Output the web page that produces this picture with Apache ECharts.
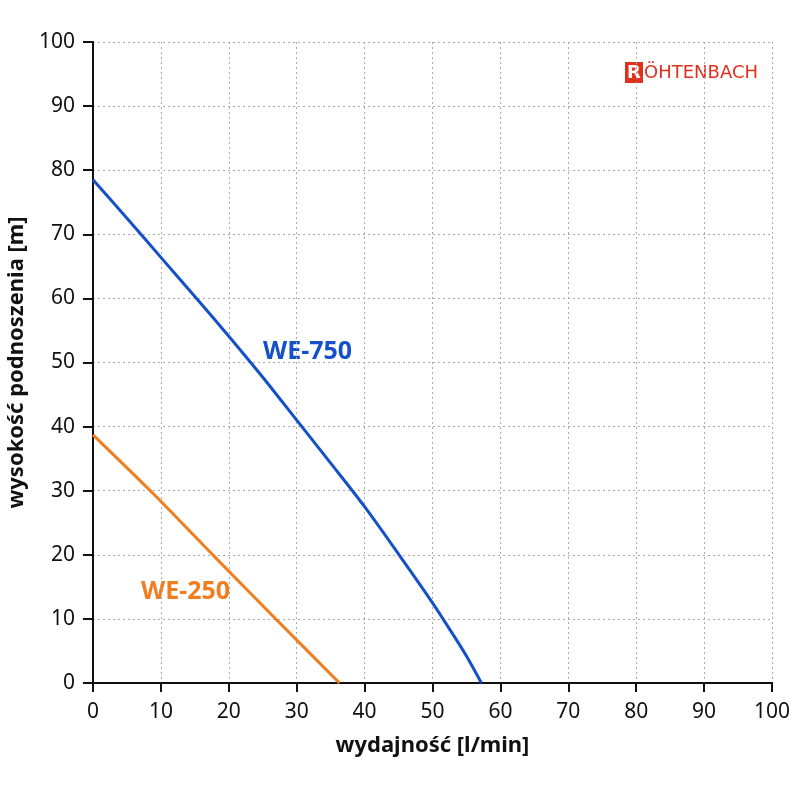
<!DOCTYPE html>
<html>
<head>
<meta charset="utf-8">
<script src="https://cdn.jsdelivr.net/npm/echarts@6/dist/echarts.min.js"></script>
<style>
  html, body { margin: 0; padding: 0; background: #fff; }
  #chart { width: 800px; height: 800px; }
</style>
</head>
<body>
<div id="chart"></div>
<script>
var axisTicks = [0, 10, 20, 30, 40, 50, 60, 70, 80, 90, 100];
var we750Flow = [0, 5, 10, 15, 20, 25, 30, 35, 40, 45, 50, 53, 55, 57.2];
var we750Head = [78.5, 72.5, 66.4, 60.3, 54.1, 47.7, 41.0, 34.3, 27.5, 20.1, 12.5, 7.6, 4.2, 0];
var we250Flow = [0, 9, 18, 27, 36.3];
var we250Head = [38.7, 29.4, 19.6, 9.9, 0];

function pairs(xs, ys) {
  return xs.map(function (x, i) { return [x, ys[i]]; });
}

var font = 'Noto Sans';
var mychart = echarts.init(document.getElementById('chart'));

var splitStyle = { show: true, lineStyle: { color: '#aaa', type: [2, 3], width: 1 } };
var frameLine = { show: true, lineStyle: { color: '#111', width: 2 } };

var option = {
  backgroundColor: '#ffffff',
  animation: false,
  grid: {
    left: 93, right: 28, top: 42, bottom: 117,
    containLabel: false,
    outerBoundsMode: 'none'
  },
  xAxis: [{
    type: 'value', min: 0, max: 100, interval: 10,
    name: 'wydajność [l/min]',
    nameLocation: 'middle', nameGap: 52,
    nameTextStyle: { fontFamily: font, fontSize: 22, fontWeight: 'bold', color: '#111' },
    axisLine: frameLine,
    axisTick: { show: true, length: 9, lineStyle: { color: '#111', width: 2 } },
    axisLabel: { fontFamily: font, fontSize: 21, color: '#111', margin: 19 },
    splitLine: splitStyle
  }, {
    type: 'value', position: 'top', min: 0, max: 100, interval: 10,
    axisLine: frameLine, axisTick: { show: false }, axisLabel: { show: false },
    splitLine: { show: false }
  }],
  yAxis: [{
    type: 'value', min: 0, max: 100, interval: 10,
    name: 'wysokość podnoszenia [m]',
    nameLocation: 'middle', nameGap: 51,
    nameTextStyle: { fontFamily: font, fontSize: 22, fontWeight: 'bold', color: '#111' },
    axisLine: frameLine,
    axisTick: { show: true, length: 10, lineStyle: { color: '#111', width: 2 } },
    axisLabel: { fontFamily: font, fontSize: 21, color: '#111', margin: 18 },
    splitLine: splitStyle
  }, {
    type: 'value', position: 'right', min: 0, max: 100, interval: 10,
    axisLine: frameLine, axisTick: { show: false }, axisLabel: { show: false },
    splitLine: { show: false }
  }],
  series: [{
    name: 'WE-750',
    type: 'line',
    smooth: 0.3,
    symbol: 'none',
    lineStyle: { color: '#1450c8', width: 3 },
    data: pairs(we750Flow, we750Head)
  }, {
    name: 'WE-250',
    type: 'line',
    smooth: 0.2,
    symbol: 'none',
    lineStyle: { color: '#f07d1e', width: 3 },
    data: pairs(we250Flow, we250Head)
  }],
  graphic: [{
    type: 'text', left: 263, top: 339,
    style: { text: 'WE-750', fontFamily: font, fontSize: 25, fontWeight: 'bold', fill: '#1450c8' }
  }, {
    type: 'text', left: 141, top: 579,
    style: { text: 'WE-250', fontFamily: font, fontSize: 25, fontWeight: 'bold', fill: '#f07d1e' }
  }, {
    type: 'rect', shape: { x: 625, y: 62, width: 18, height: 21 },
    style: { fill: '#e0301e' }
  }, {
    type: 'text', x: 634, y: 73,
    style: { text: 'R', fontFamily: 'DejaVu Sans', fontSize: 18, fontWeight: 'bold', fill: '#fff', align: 'center', verticalAlign: 'middle' }
  }, {
    type: 'text', x: 644, y: 73,
    style: { text: 'ÖHTENBACH', fontFamily: 'DejaVu Sans', fontSize: 18, fill: '#e0301e', verticalAlign: 'middle' }
  }]
};

mychart.setOption(option);
</script>
</body>
</html>
